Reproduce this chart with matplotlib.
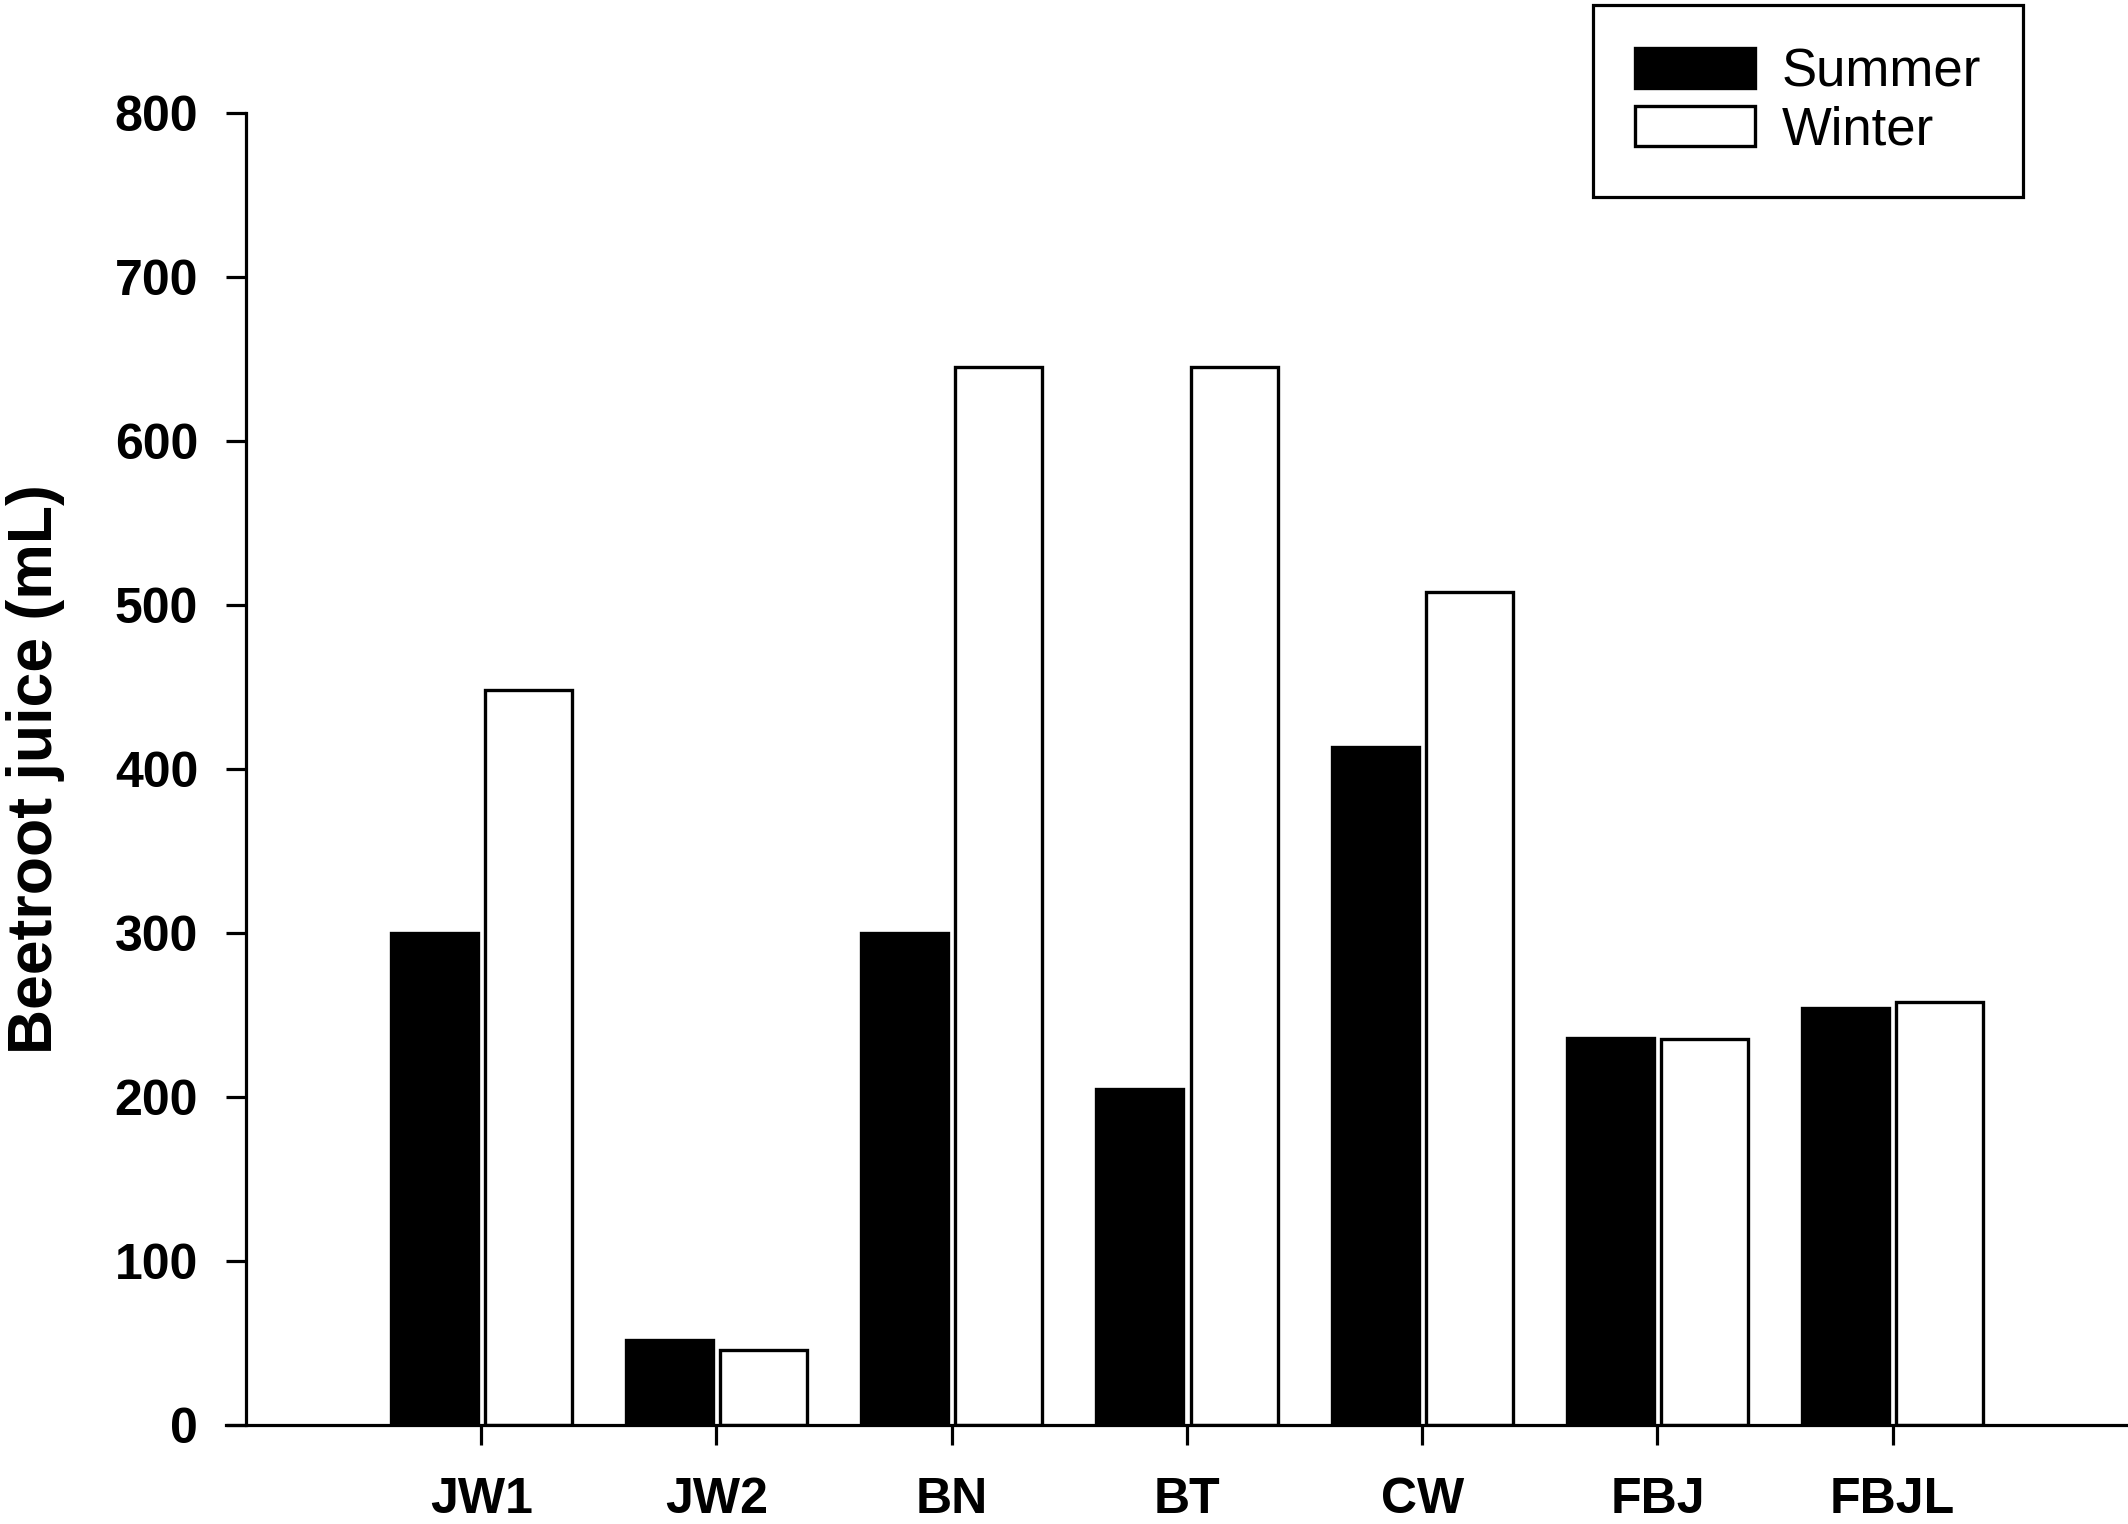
import matplotlib
matplotlib.use('Agg')
import matplotlib.pyplot as plt
import numpy as np

# ── Data ─────────────────────────────────────────────
juices = ["JW1", "JW2", "BN", "BT", "CW", "FBJ", "FBJL"]
summer = [300, 52, 300, 205, 413, 236, 254]
winter = [448, 46, 645, 645, 508, 235, 258]

plt.rcParams.update({
    'font.family': ['Liberation Sans', 'DejaVu Sans'],
    'axes.linewidth': 2.3,
    'xtick.major.width': 2.3, 'ytick.major.width': 2.3,
    'xtick.major.size': 14.5, 'ytick.major.size': 14.5,
})

x = np.arange(len(juices))
w = 0.37

fig = plt.figure(figsize=(21.28, 15.24), dpi=100)
ax = fig.add_axes([226 / 2128, 99 / 1524, 1 - 226 / 2128, (1411.4 - 99) / 1524])

ax.bar(x - 0.2, summer, width=w, color='black', edgecolor='black',
       linewidth=2.4, label='Summer')
ax.bar(x + 0.2, winter, width=w, color='white', edgecolor='black',
       linewidth=2.4, label='Winter')

ax.set_xlim(-1.085, 7.0)
ax.set_ylim(0, 800)
ax.spines['left'].set_position(('data', -1.0))
ax.spines['top'].set_visible(False)
ax.spines['right'].set_visible(False)

ax.set_xticks(x)
ax.set_xticklabels(juices, fontsize=36, fontweight='bold')
ax.set_yticks(range(0, 801, 100))
ax.set_yticklabels([str(v) for v in range(0, 801, 100)], fontsize=36, fontweight='bold')
ax.tick_params(axis='x', pad=23)
ax.tick_params(axis='y', pad=20)
ax.set_ylabel("Beetroot juice (mL)", fontsize=45, fontweight='bold', labelpad=36)

leg = ax.legend(loc='upper left', bbox_to_anchor=(1593 / 2128, 1 - 5 / 1524),
                bbox_transform=fig.transFigure, fontsize=38, frameon=True,
                fancybox=False, framealpha=1, edgecolor='black',
                handlelength=2.27, handleheight=0.8, handletextpad=0.5,
                labelspacing=0.15, borderpad=0.8, borderaxespad=0)
leg.get_frame().set_linewidth(2.3)

fig.savefig("out.png", dpi=100)
